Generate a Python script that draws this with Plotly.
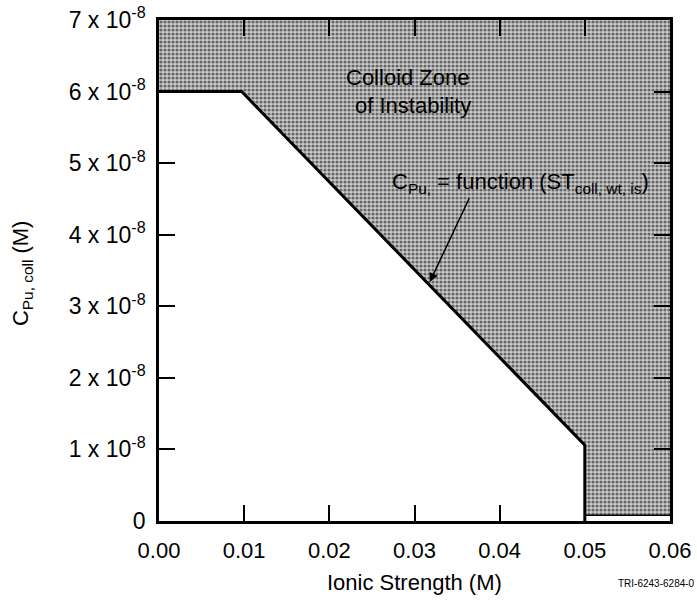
import plotly.graph_objects as go

# Boundary curve of colloid stability (Ionic strength in M, C_Pu,coll in M)
ionic_strength = [0.0, 0.0097, 0.05, 0.05]
c_pu_coll = [6.0e-8, 6.0e-8, 1.06e-8, 0.0]

# Shaded zone: above boundary, plus the band for I > 0.05
zone_right_x = [0.05, 0.06, 0.06, 0.0]
zone_right_y = [0.08e-8, 0.08e-8, 7.0e-8, 7.0e-8]

x_ticks = [0.0, 0.01, 0.02, 0.03, 0.04, 0.05, 0.06]
x_ticktext = ["0.00", "0.01", "0.02", "0.03", "0.04", "0.05", "0.06"]
y_ticks = [0, 1e-8, 2e-8, 3e-8, 4e-8, 5e-8, 6e-8, 7e-8]
y_ticktext = ["0"] + [f"{i} x 10<sup>-8</sup>" for i in range(1, 8)]

FONT = "Liberation Sans, Arial, Helvetica, sans-serif"

zone_x = ionic_strength[:3] + zone_right_x + [ionic_strength[0]]
zone_y = c_pu_coll[:3] + zone_right_y + [c_pu_coll[0]]

fig = go.Figure()
fig.add_trace(go.Scatter(
    x=zone_x, y=zone_y, mode="lines", fill="toself",
    line=dict(width=0, color="rgba(0,0,0,0)"),
    fillcolor="#c4c4c4",
    fillpattern=dict(shape=".", bgcolor="#cccccc", fgcolor="#000000", size=4, solidity=0.5),
    hoverinfo="skip", showlegend=False,
))
fig.add_trace(go.Scatter(
    x=ionic_strength, y=c_pu_coll, mode="lines",
    line=dict(color="black", width=3), showlegend=False, hoverinfo="skip",
))
fig.add_trace(go.Scatter(
    x=zone_right_x[:2], y=zone_right_y[:2], mode="lines",
    line=dict(color="black", width=1.5), showlegend=False, hoverinfo="skip",
))

axis_common = dict(
    showgrid=False, zeroline=False, showline=True, linecolor="black", linewidth=2.5,
    mirror="ticks", ticks="inside", ticklen=16, tickwidth=2, tickcolor="black",
    automargin=False, ticklabeloverflow="allow",
)
fig.update_xaxes(range=[0, 0.06], tickvals=x_ticks, ticktext=x_ticktext, ticklabelstandoff=8,
                 tickfont=dict(family=FONT, size=22, color="black"), **axis_common)
fig.update_yaxes(range=[0, 7e-8], tickvals=y_ticks, ticktext=y_ticktext, ticklabelstandoff=6,
                 tickfont=dict(family=FONT, size=23, color="black"), **axis_common)

ann_font = dict(family=FONT, size=22, color="black")
fig.add_annotation(x=0.0292, y=6.20e-8, text="Colloid Zone", showarrow=False, font=ann_font)
fig.add_annotation(x=0.0298, y=5.80e-8, text="of Instability", showarrow=False, font=ann_font)
fig.add_annotation(x=0.0424, y=4.72e-8,
                   text="C<sub>Pu,</sub> = function (ST<sub>coll, wt, is</sub>)",
                   showarrow=False, font=ann_font)
fig.add_annotation(x=0.0318, y=3.34e-8, text="", showarrow=True, arrowhead=2,
                   arrowsize=1.2, arrowwidth=1.5, arrowcolor="black", ax=40, ay=-85)
fig.add_annotation(xref="paper", yref="paper", x=0.5, y=-0.122, xanchor="center", yanchor="middle",
                   text="Ionic Strength (M)", showarrow=False, font=dict(family=FONT, size=22, color="black"))
fig.add_annotation(xref="paper", yref="paper", x=-0.268, y=0.493, xanchor="center", yanchor="middle",
                   textangle=-90, text="C<sub>Pu, coll</sub> (M)", showarrow=False,
                   font=dict(family=FONT, size=22, color="black"))
fig.add_annotation(xref="paper", yref="paper", x=1.052, y=-0.124, xanchor="right", yanchor="middle",
                   text="TRI-6243-6284-0", showarrow=False, font=dict(family=FONT, size=10, color="black"))

fig.update_layout(
    width=697, height=604, autosize=False,
    margin=dict(l=159, r=27, t=20, b=83),
    plot_bgcolor="white", paper_bgcolor="white",
    font=dict(family=FONT, color="black"),
)
# remove the default 8px page margin so the figure fills the window exactly
fig.write_html("out.html", config={"displayModeBar": False},
               post_script="document.body.style.margin='0';document.body.style.overflow='hidden';")
